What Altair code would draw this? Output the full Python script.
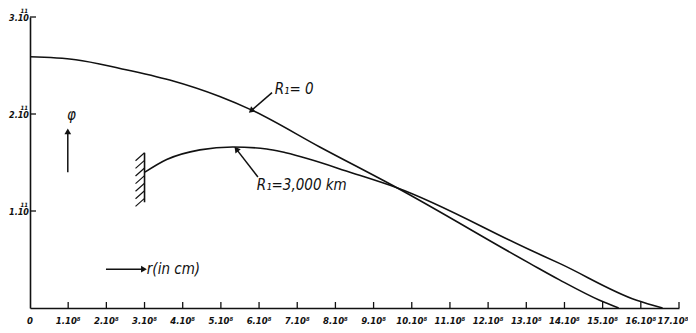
import math
import altair as alt
import pandas as pd
import numpy as np

# ---- data ----
r_ticks = list(range(1, 18))
r_tick_labels = ["0"] + [f"{v}.10⁸" for v in r_ticks]
phi_ticks = [1, 2, 3]
phi_tick_labels = ["1.10", "2.10", "3.10"]
phi_tick_exp = ["11", "11", "11"]

r_R0 = [0.0, 1.2, 2.36, 3.66, 4.97, 5.81, 7.59, 9.61, 13.09, 13.87, 14.92, 15.42]
phi_R0 = [2.59, 2.56, 2.47, 2.35, 2.18, 2.04, 1.66, 1.24, 0.46, 0.29, 0.08, 0.0]

r_R3000 = [3.01, 3.58, 4.45, 5.31, 6.20, 6.70, 8.46, 9.61, 13.09, 13.87, 15.89, 16.57]
phi_R3000 = [1.40, 1.53, 1.63, 1.66, 1.64, 1.60, 1.39, 1.24, 0.60, 0.46, 0.08, 0.0]

annot_text = ["R₁= 0", "R₁=3,000 km", "φ", "r(in cm)"]
annot_r = [6.41, 5.94, 0.97, 3.06]
annot_phi = [2.26, 1.27, 1.99, 0.40]

arrow_r0 = [6.34, 5.97, 0.99, 1.99]
arrow_phi0 = [2.22, 1.35, 1.40, 0.40]
arrow_r1 = [5.81, 5.42, 0.99, 2.96]
arrow_phi1 = [2.04, 1.63, 1.81, 0.40]

wall_r = 3.0
wall_phi = [1.09, 1.60]

# ---- layout ----
W, H = 649, 291
px_r = W / 17.0
px_phi = H / 3.0
FONT = "DejaVu Sans Condensed, Liberation Sans"

xs = alt.Scale(domain=[0, 17], nice=False, zero=False)
ys = alt.Scale(domain=[0, 3], nice=False, zero=False)

curves = pd.DataFrame(
    {"r": r_R0 + r_R3000,
     "phi": phi_R0 + phi_R3000,
     "s": ["R0"] * len(r_R0) + ["R3000"] * len(r_R3000)}
)

lines = alt.Chart(curves).mark_line(
    interpolate="monotone", color="#111", strokeWidth=1.6
).encode(
    x=alt.X("r:Q", scale=xs, title=None, axis=alt.Axis(labels=False, title=None)),
    y=alt.Y("phi:Q", scale=ys, title=None, axis=alt.Axis(labels=False, title=None)),
    detail="s:N",
)

xt = alt.Chart(pd.DataFrame({"r": r_ticks})).mark_rule(color="#111", strokeWidth=1.3).encode(
    x=alt.X("r:Q", scale=xs, title=None), y=alt.value(H), y2=alt.value(H - 6))
yt = alt.Chart(pd.DataFrame({"phi": phi_ticks})).mark_rule(color="#111", strokeWidth=1.3).encode(
    y=alt.Y("phi:Q", scale=ys, title=None), x=alt.value(0), x2=alt.value(6))

xlab_df = pd.DataFrame({"r": [0] + r_ticks, "t": r_tick_labels})
xlab = alt.Chart(xlab_df.iloc[:-1]).mark_text(
    font=FONT, fontStyle="italic", fontWeight="bold", fontSize=9.5, color="#111",
    align="center", baseline="middle"
).encode(x=alt.X("r:Q", scale=xs, title=None), y=alt.value(H + 13), text="t:N")
xlab_last = alt.Chart(xlab_df.iloc[-1:]).mark_text(
    font=FONT, fontStyle="italic", fontWeight="bold", fontSize=9.5, color="#111",
    align="center", baseline="middle", dx=-6
).encode(x=alt.X("r:Q", scale=xs, title=None), y=alt.value(H + 13), text="t:N")

ylab = alt.Chart(pd.DataFrame({"phi": phi_ticks, "t": phi_tick_labels})).mark_text(
    font=FONT, fontStyle="italic", fontWeight="bold", fontSize=9, color="#111",
    align="right", baseline="middle", dy=1
).encode(y=alt.Y("phi:Q", scale=ys, title=None), x=alt.value(-1), text="t:N")

yexp = alt.Chart(pd.DataFrame({"phi": phi_ticks, "t": phi_tick_exp})).mark_text(
    font=FONT, fontStyle="italic", fontWeight="bold", fontSize=6, color="#111",
    align="right", baseline="middle", dy=-6
).encode(y=alt.Y("phi:Q", scale=ys, title=None), x=alt.value(-2), text="t:N")

# arrows
ang = []
for a0, b0, a1, b1 in zip(arrow_r0, arrow_phi0, arrow_r1, arrow_phi1):
    dx = (a1 - a0) * px_r
    dy = -(b1 - b0) * px_phi
    ang.append(math.degrees(math.atan2(dx, -dy)) % 360)
arr = pd.DataFrame({"r0": arrow_r0, "p0": arrow_phi0, "r1": arrow_r1, "p1": arrow_phi1, "ang": ang})
shafts = alt.Chart(arr).mark_rule(color="#111", strokeWidth=1.5).encode(
    x=alt.X("r0:Q", scale=xs, title=None), y=alt.Y("p0:Q", scale=ys, title=None),
    x2="r1:Q", y2="p1:Q")
heads = alt.Chart(arr).mark_point(shape="triangle", filled=True, color="#111", size=45, opacity=1).encode(
    x=alt.X("r1:Q", scale=xs, title=None), y=alt.Y("p1:Q", scale=ys, title=None),
    angle=alt.Angle("ang:Q", scale=None))

texts = alt.Chart(pd.DataFrame({"t": annot_text, "r": annot_r, "p": annot_phi})).mark_text(
    font=FONT, fontStyle="italic", fontSize=15, align="left", baseline="middle", color="#111"
).encode(
    x=alt.X("r:Q", scale=xs, title=None), y=alt.Y("p:Q", scale=ys, title=None), text="t:N")

# hatched wall
wall = alt.Chart(pd.DataFrame({"r": [wall_r], "p0": [wall_phi[0]], "p1": [wall_phi[1]]})).mark_rule(
    color="#111", strokeWidth=1.6).encode(
    x=alt.X("r:Q", scale=xs, title=None), y=alt.Y("p0:Q", scale=ys, title=None), y2="p1:Q")
hp = np.linspace(wall_phi[1], wall_phi[0] + 0.04, 7)
hatch = pd.DataFrame({"r0": [wall_r] * len(hp), "p0": hp,
                      "r1": [wall_r - 9 / px_r] * len(hp), "p1": hp - 8 / px_phi})
hatches = alt.Chart(hatch).mark_rule(color="#111", strokeWidth=1.2).encode(
    x=alt.X("r0:Q", scale=xs, title=None), y=alt.Y("p0:Q", scale=ys, title=None),
    x2="r1:Q", y2="p1:Q")

chart = alt.layer(lines, xt, yt, xlab, xlab_last, ylab, yexp, shafts, heads, texts, wall, hatches).properties(
    width=W, height=H, autosize="none",
    padding={"left": 22, "top": 9, "right": 9, "bottom": 21},
    background="white",
).configure_view(stroke=None).configure_axis(
    grid=False, ticks=False, domainColor="#111", domainWidth=1.6,
)

chart.save("out.html", embed_options={"renderer": "svg", "actions": False})
